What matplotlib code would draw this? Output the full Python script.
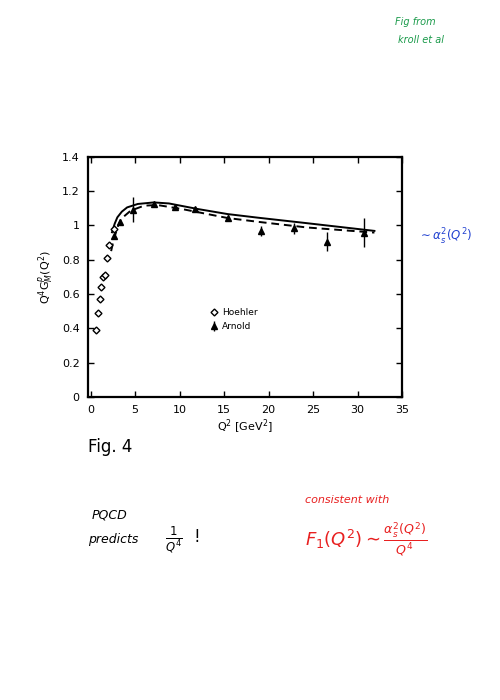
import matplotlib.pyplot as plt

# Hoehler points (open diamonds)
hoehler_q2 = [0.56, 0.81, 1.0, 1.11, 1.44, 1.63, 1.78, 2.11, 2.67]
hoehler_ff = [0.39, 0.49, 0.57, 0.64, 0.70, 0.71, 0.81, 0.885, 0.98]

# Arnold points (filled triangles) with error bars
arnold_q2 = [2.6, 3.33, 4.8, 7.1, 9.45, 11.7, 15.4, 19.2, 22.9, 26.6, 30.7]
arnold_ff = [0.94, 1.017, 1.09, 1.125, 1.105, 1.095, 1.043, 0.968, 0.982, 0.904, 0.958]
arnold_err = [0.0, 0.01, 0.073, 0.01, 0.01, 0.01, 0.02, 0.03, 0.03, 0.055, 0.085]

# theory curves
solid_q2 = [2.4, 2.7, 3.0, 3.5, 4.1, 5.3, 7.1, 8.8, 12.1, 15.4, 18.8, 24.3, 31.9]
solid_ff = [0.96, 1.01, 1.047, 1.08, 1.105, 1.125, 1.134, 1.128, 1.095, 1.066, 1.045, 1.013, 0.968]
dash_q2 = [2.3, 2.55, 2.85, 3.1, 3.4, 4.5, 6.0, 7.5, 10.3, 15.4, 18.8, 24.3, 31.9]
dash_ff = [0.85, 0.91, 0.96, 1.0, 1.037, 1.086, 1.115, 1.119, 1.095, 1.043, 1.021, 0.988, 0.958]

xticks = [0, 5, 10, 15, 20, 25, 30, 35]
yticks = [0, 0.2, 0.4, 0.6, 0.8, 1.0, 1.2, 1.4]
ytick_labels = ['0', '0.2', '0.4', '0.6', '0.8', '1', '1.2', '1.4']

fig = plt.figure(figsize=(5, 7), dpi=100)
ax = fig.add_axes([0.176, 0.433, 0.628, 0.343])

ax.plot(solid_q2, solid_ff, color='black', lw=1.4)
ax.plot(dash_q2, dash_ff, color='black', lw=1.4, ls=(0, (4, 2.5)))
ax.plot(hoehler_q2, hoehler_ff, ls='none', marker='D', ms=3.5, mfc='white',
        mec='black', mew=1.0, label='Hoehler')
ax.errorbar(arnold_q2, arnold_ff, yerr=arnold_err, fmt='^', ms=4.5, color='black',
            elinewidth=1.0, capsize=0, label='Arnold')

ax.set_xlim(-0.3, 34.6)
ax.set_ylim(0, 1.4)
ax.set_xticks(xticks)
ax.set_yticks(yticks)
ax.set_yticklabels(ytick_labels)
ax.tick_params(direction='in', top=True, right=True, length=4, width=1, labelsize=8, pad=6)
for s in ax.spines.values():
    s.set_linewidth(1.6)

ax.set_xlabel(r'Q$^2$ [GeV$^2$]', fontsize=8, labelpad=2)
ax.set_ylabel(r'Q$^4$G$^p_M$(Q$^2$)', fontsize=8, labelpad=4)

ax.legend(loc='lower left', bbox_to_anchor=(0.36, 0.24), frameon=False, fontsize=6.5,
          handletextpad=0.4, labelspacing=0.6, handlelength=1.0)

# annotations on the page
fig.text(88 / 500, 1 - 447 / 700, 'Fig. 4', fontsize=12, va='center', ha='left')
fig.text(395 / 500, 1 - 22 / 700, 'Fig from', color='#1a9a4a', fontsize=7,
         style='italic', va='center')
fig.text(398 / 500, 1 - 40 / 700, 'kroll et al', color='#1a9a4a', fontsize=7,
         style='italic', va='center')
fig.text(418 / 500, 1 - 237 / 700, r'$\sim \alpha_s^2(Q^2)$', color='#2040d0',
         fontsize=8.5, va='center')
fig.text(92 / 500, 1 - 515 / 700, 'PQCD', fontsize=9, style='italic', va='center')
fig.text(88 / 500, 1 - 540 / 700, 'predicts', fontsize=9, style='italic', va='center')
fig.text(165 / 500, 1 - 540 / 700, r'$\frac{1}{Q^4}$  !', fontsize=12, va='center')
fig.text(305 / 500, 1 - 500 / 700, 'consistent with', color='#e82020', fontsize=8,
         style='italic', va='center')
fig.text(305 / 500, 1 - 540 / 700, r'$F_1(Q^2) \sim \frac{\alpha_s^2(Q^2)}{Q^4}$',
         color='#e82020', fontsize=13, va='center')

fig.savefig('out.png', dpi=100)
